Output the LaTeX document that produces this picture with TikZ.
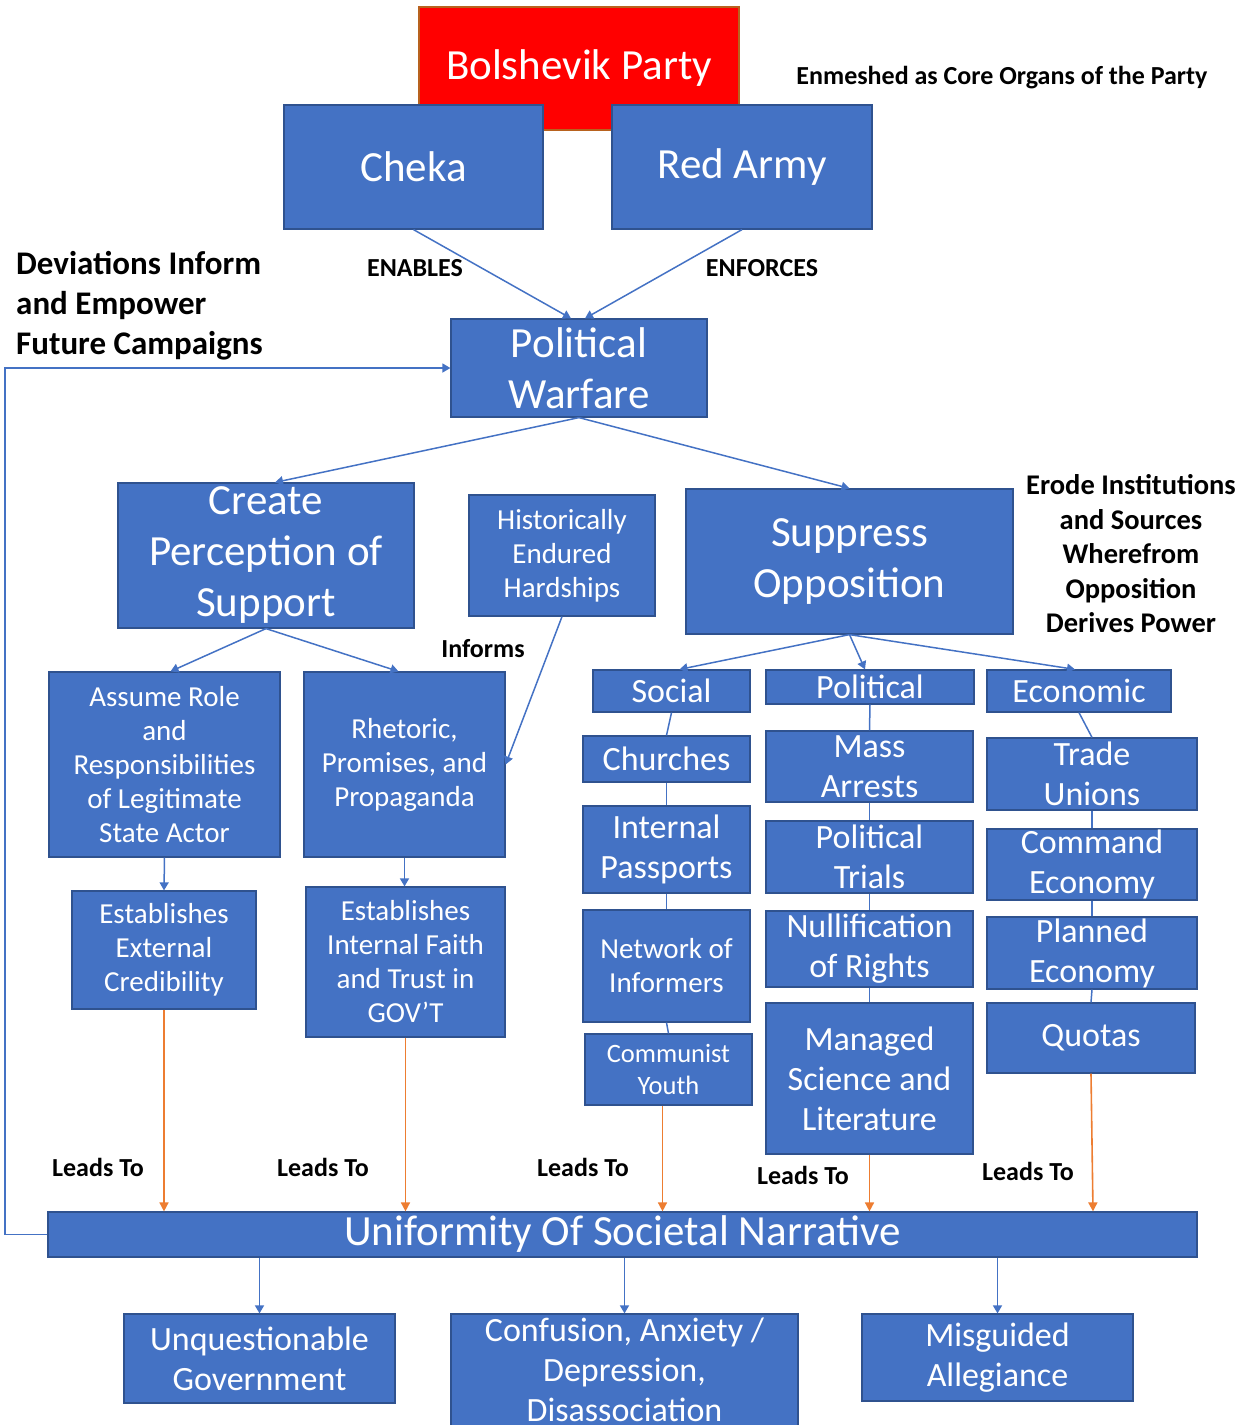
\documentclass[tikz,border=0pt]{standalone}
\usepackage{fontspec}
\setmainfont{Carlito}
\usetikzlibrary{arrows.meta}
\definecolor{blu}{HTML}{4472C4}
\definecolor{bdr}{HTML}{2F528F}
\definecolor{org}{HTML}{ED7D31}
\definecolor{rbdr}{HTML}{B8621E}
\tikzset{
  box/.style={draw=bdr, fill=blu, text=white, inner sep=0pt, align=center, line width=1.2pt},
  big/.style={font=\fontsize{43}{51}\selectfont},
  med/.style={font=\fontsize{34}{40}\selectfont},
  sml/.style={font=\fontsize{29}{34}\selectfont},
  lbl/.style={font=\bfseries\fontsize{26}{30}\selectfont, inner sep=0pt, align=center},
  conn/.style={draw=blu, line width=1.5pt},
  arr/.style={conn, -{Triangle[width=9pt,length=8pt]}},
  oarr/.style={draw=org, line width=1.6pt, -{Triangle[width=9pt,length=9pt]}},
}
\begin{document}
\begin{tikzpicture}[x=1pt,y=-1pt]
\useasboundingbox (0,0) rectangle (1250,1425);
% top
\node[box, big, fill=red, draw=rbdr, minimum width=320pt, minimum height=123pt] (bp) at (579,68.5) {Bolshevik Party};
\node[box, big, minimum width=259pt, minimum height=124pt] (cheka) at (413.5,167) {Cheka};
\node[box, big, minimum width=260pt, minimum height=124pt] (army) at (742,167) {Red Army};
\node[lbl] (enm) at (1002,78) {Enmeshed as Core Organs of the Party};
\node[box, big, minimum width=256pt, minimum height=98pt] (pw) at (579,368) {Political\\Warfare};
\node[lbl] (enab) at (415,268) {ENABLES};
\node[lbl] (enf) at (762,268) {ENFORCES};
\node[lbl, font=\bfseries\fontsize{33}{40}\selectfont, align=left, anchor=west] (dev) at (16,306) {Deviations Inform\\and Empower\\Future Campaigns};
% second level
\node[box, big, minimum width=296pt, minimum height=145pt] (cps) at (266,555.5) {Create\\Perception of\\Support};
\node[box, sml, minimum width=186pt, minimum height=121pt] (heh) at (562,555.5) {Historically\\Endured\\Hardships};
\node[box, big, minimum width=327pt, minimum height=145pt] (so) at (849.5,561.5) {Suppress\\Opposition};
\node[lbl, font=\bfseries\fontsize{28.5}{34.5}\selectfont] (erode) at (1131,554) {Erode Institutions\\and Sources\\Wherefrom\\Opposition\\Derives Power};
\node[lbl] (inf) at (483,649) {Informs};
% left branch
\node[box, sml, minimum width=231pt, minimum height=185pt] (ar) at (164.5,764.5) {Assume Role\\and\\Responsibilities\\of Legitimate\\State Actor};
\node[box, sml, minimum width=201pt, minimum height=185pt] (rpp) at (404.5,764.5) {Rhetoric,\\Promises, and\\Propaganda};
\node[box, sml, minimum width=184pt, minimum height=118pt] (eec) at (164,950) {Establishes\\External\\Credibility};
\node[box, sml, minimum width=199pt, minimum height=150pt] (eif) at (405.5,962) {Establishes\\Internal Faith\\and Trust in\\GOV’T};
% right branch headers
\node[box, med, minimum width=157pt, minimum height=42pt] (social) at (671.5,691) {Social};
\node[box, med, minimum width=208pt, minimum height=34pt] (polit) at (870,687) {Political};
\node[box, med, minimum width=184pt, minimum height=42pt] (econ) at (1079,691) {Economic};
% social column
\node[box, med, minimum width=167pt, minimum height=46pt] (church) at (666.5,759) {Churches};
\node[box, med, minimum width=167pt, minimum height=87pt] (pass) at (666.5,849.5) {Internal\\Passports};
\node[box, sml, minimum width=167pt, minimum height=112pt] (net) at (666.5,966) {Network of\\Informers};
\node[box, font=\fontsize{26.5}{32}\selectfont, minimum width=167pt, minimum height=71pt] (youth) at (668.5,1069.5) {Communist\\Youth};
% political column
\node[box, med, minimum width=207pt, minimum height=71pt] (mass) at (869.5,766.5) {Mass\\Arrests};
\node[box, med, minimum width=207pt, minimum height=72pt] (trials) at (869.5,857) {Political\\Trials};
\node[box, med, minimum width=207pt, minimum height=76pt] (null) at (869.5,949) {Nullification\\of Rights};
\node[box, med, minimum width=207pt, minimum height=151pt] (sci) at (869.5,1078.5) {Managed\\Science and\\Literature};
% economic column
\node[box, med, minimum width=210pt, minimum height=72pt] (trade) at (1092,774) {Trade\\Unions};
\node[box, med, minimum width=210pt, minimum height=71pt] (cmd) at (1092,864.5) {Command\\Economy};
\node[box, med, minimum width=210pt, minimum height=72pt] (plan) at (1092,953) {Planned\\Economy};
\node[box, med, minimum width=208pt, minimum height=70pt] (quota) at (1091,1038) {Quotas};
% bottom
\node[box, big, minimum width=1149pt, minimum height=45pt] (unif) at (622.5,1234.5) {Uniformity Of Societal Narrative};
\node[box, med, minimum width=271pt, minimum height=89pt] (ug) at (259.5,1358.5) {Unquestionable\\Government};
\node[box, med, minimum width=347pt, minimum height=112pt] (cad) at (624.5,1370) {Confusion, Anxiety {/}\\Depression,\\Disassociation};
\node[box, med, minimum width=271pt, minimum height=87pt] (mis) at (997.5,1357.5) {Misguided\\Allegiance};
% leads to labels
\node[lbl] (l1) at (98,1167) {Leads To};
\node[lbl] (l2) at (323,1167) {Leads To};
\node[lbl] (l3) at (583,1167) {Leads To};
\node[lbl] (l4) at (803,1175) {Leads To};
\node[lbl] (l5) at (1028,1171) {Leads To};
\coordinate (fb) at (5,0);
% connectors
\draw[arr] (cheka.south) -- ([xshift=-8pt]pw.north);
\draw[arr] (army.south) -- ([xshift=6pt]pw.north);
\draw[arr] (pw.south) -- ([xshift=9pt]cps.north);
\draw[arr] (pw.south) -- (so.north);
\draw[arr] (cps.south) -- ([xshift=6pt]ar.north);
\draw[arr] (cps.south) -- ([xshift=-6pt]rpp.north);
\draw[arr] (heh.south) -- (rpp.east);
\draw[arr] (ar.south) -- (eec.north);
\draw[arr] (rpp.south) -- (rpp.south |- eif.north);
\draw[arr] (so.south) -- ([xshift=8pt]social.north);
\draw[arr] (so.south) -- ([xshift=-5pt]polit.north);
\draw[arr] (so.south) -- ([xshift=-4pt]econ.north);
\draw[conn] (social.south) -- (church.north);
\draw[conn] (church.south) -- (pass.north);
\draw[conn] (pass.south) -- (net.north);
\draw[conn] (net.south) -- (youth.north);
\draw[conn] (polit.south) -- (mass.north);
\draw[conn] (mass.south) -- (trials.north);
\draw[conn] (trials.south) -- (null.north);
\draw[conn] (null.south) -- (sci.north);
\draw[conn] (econ.south) -- (trade.north);
\draw[conn] (trade.south) -- (cmd.north);
\draw[conn] (cmd.south) -- (plan.north);
\draw[conn] (plan.south) -- (quota.north);
\draw[oarr] (eec.south) -- (eec.south |- unif.north);
\draw[oarr] (eif.south) -- (eif.south |- unif.north);
\draw[oarr] ([xshift=-6pt]youth.south) -- ([xshift=-6pt]youth.south |- unif.north);
\draw[oarr] (sci.south) -- (sci.south |- unif.north);
\draw[oarr] (quota.south) -- ([xshift=2pt]quota.south |- unif.north);
\draw[arr] (ug.north |- unif.south) -- (ug.north);
\draw[arr] (cad.north |- unif.south) -- (cad.north);
\draw[arr] (mis.north |- unif.south) -- (mis.north);
\draw[arr] (unif.west) -- (unif.west -| fb) |- (pw.west);
\end{tikzpicture}
\end{document}
